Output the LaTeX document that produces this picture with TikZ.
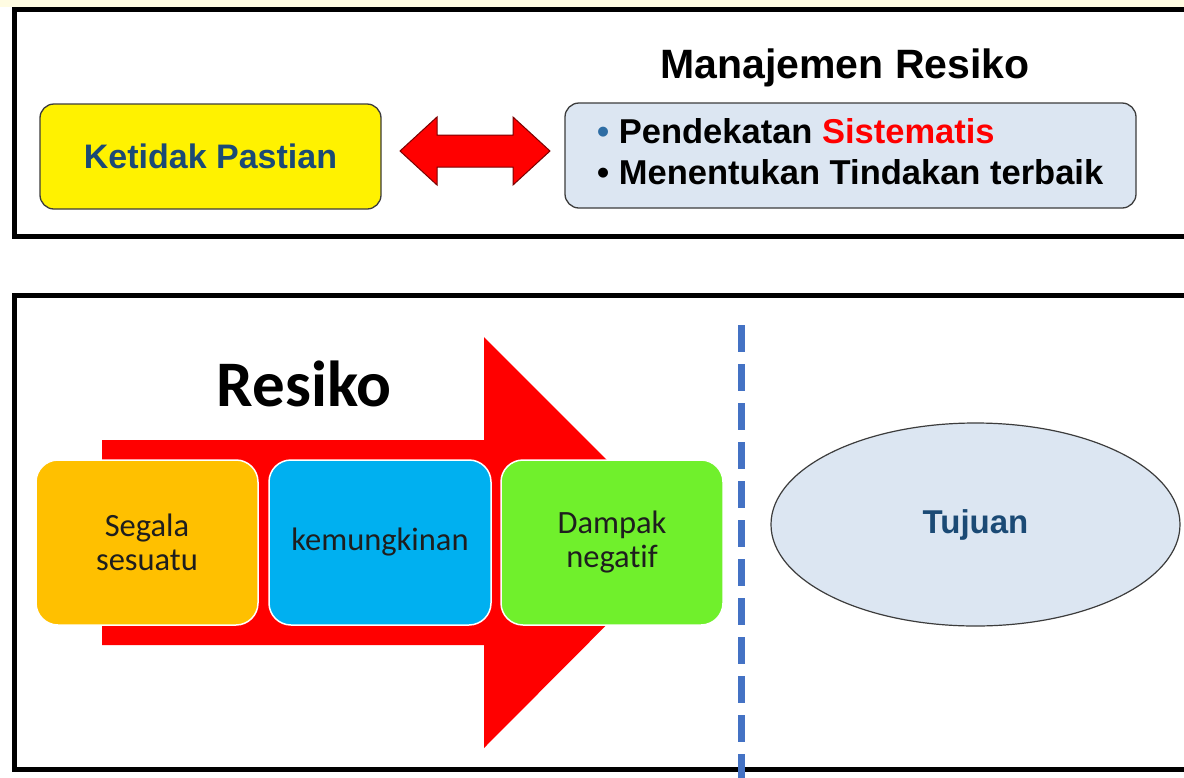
\documentclass[tikz,border=0pt]{standalone}
\usepackage{fontspec}
\setmainfont{Liberation Sans}
\newfontfamily\calibri[Ligatures=NoCommon]{Carlito}
\usetikzlibrary{shapes.geometric}

\definecolor{navytext}{HTML}{1B4A75}
\definecolor{paleblue}{HTML}{DCE6F2}
\definecolor{edgegray}{HTML}{3C3C3C}
\definecolor{boxorange}{HTML}{FFC000}
\definecolor{boxcyan}{HTML}{00B0F0}
\definecolor{boxgreen}{HTML}{70F02C}
\definecolor{dashblue}{HTML}{4472C4}
\definecolor{bulletblue}{HTML}{2E6DA4}
\definecolor{darkred}{HTML}{7A0000}
\definecolor{inktext}{HTML}{1E1E1E}
\definecolor{topcream}{HTML}{FFFCE2}

\tikzset{
  frame/.style={draw=black, line width=5pt},
  roundbox/.style={draw=edgegray, line width=1.3pt, rounded corners=14pt,
    minimum width=#1, minimum height=105pt, inner sep=0pt},
  stagebox/.style={draw=white, line width=1.5pt, rounded corners=22pt,
    minimum width=222pt, minimum height=165pt, inner sep=0pt, align=center,
    text=inktext, font=\calibri\fontsize{32.5}{34}\selectfont},
  headline/.style={font=\bfseries\fontsize{#1}{#1}\selectfont, inner sep=0pt},
  listline/.style={anchor=west, inner sep=0pt, font=\bfseries\fontsize{34.5}{38}\selectfont}
}

\begin{document}
\begin{tikzpicture}[x=1pt, y=-1pt]
\useasboundingbox (0,0) rectangle (1184,777);
\fill[white] (0,0) rectangle (1184,777);
\fill[topcream] (0,0) rectangle (1184,7);
\clip (0,0) rectangle (1184,777);

% ---- upper panel ----
\draw[frame] (14,9) rectangle (1200,236);

\node[roundbox=341pt, fill=yellow, text=navytext,
      font=\bfseries\fontsize{34}{38}\selectfont] (unc) at (210.5,156.5) {Ketidak Pastian};

\node[headline=41] (mrtitle) at (845,68) {Manajemen Resiko};

\node[roundbox=571pt, fill=paleblue] (mr) at (850.5,155.5) {};
\node[listline] (l1) at (597,131) {{\color{bulletblue}\textbullet} Pendekatan {\color{red}Sistematis}};
\node[listline] (l2) at (597,172) {\textbullet{} Menentukan Tindakan terbaik};

% two-way arrow between the two boxes
\draw[fill=red, draw=darkred, line width=1pt, line join=miter]
  (400,151) -- (437,117) -- (437,135) -- (513,135) -- (513,117) -- (550,151)
  -- (513,185) -- (513,167) -- (437,167) -- (437,185) -- cycle;

% ---- lower panel ----
\draw[frame] (14,295) rectangle (1200,769);

% big red process arrow
\fill[red] (102,440) -- (484,440) -- (484,337) -- (689,542) -- (484,748)
  -- (484,645) -- (102,645) -- cycle;

\node[font=\calibri\bfseries\fontsize{65}{65}\selectfont, inner sep=0pt] (resiko) at (304,384) {Resiko};

\node[stagebox, fill=boxorange] (s1) at (147,542.5) {Segala\\sesuatu};
\node[stagebox, fill=boxcyan]   (s2) at (380,542.5) {kemungkinan};
\node[stagebox, fill=boxgreen]  (s3) at (612,542.5) {Dampak\\negatif};

% separator
\coordinate (sepTop) at (741,325);
\coordinate (sepBot) at (741,790);
\draw[dashblue, line width=7pt, dash pattern=on 27pt off 12pt] (sepTop) -- (sepBot);

\node[ellipse, draw=edgegray, line width=1.2pt, fill=paleblue,
      minimum width=409pt, minimum height=203pt, inner sep=0pt,
      text=navytext, font=\bfseries\fontsize{33}{36}\selectfont] (goal) at (975.5,524.5) {Tujuan};
\end{tikzpicture}
\end{document}
